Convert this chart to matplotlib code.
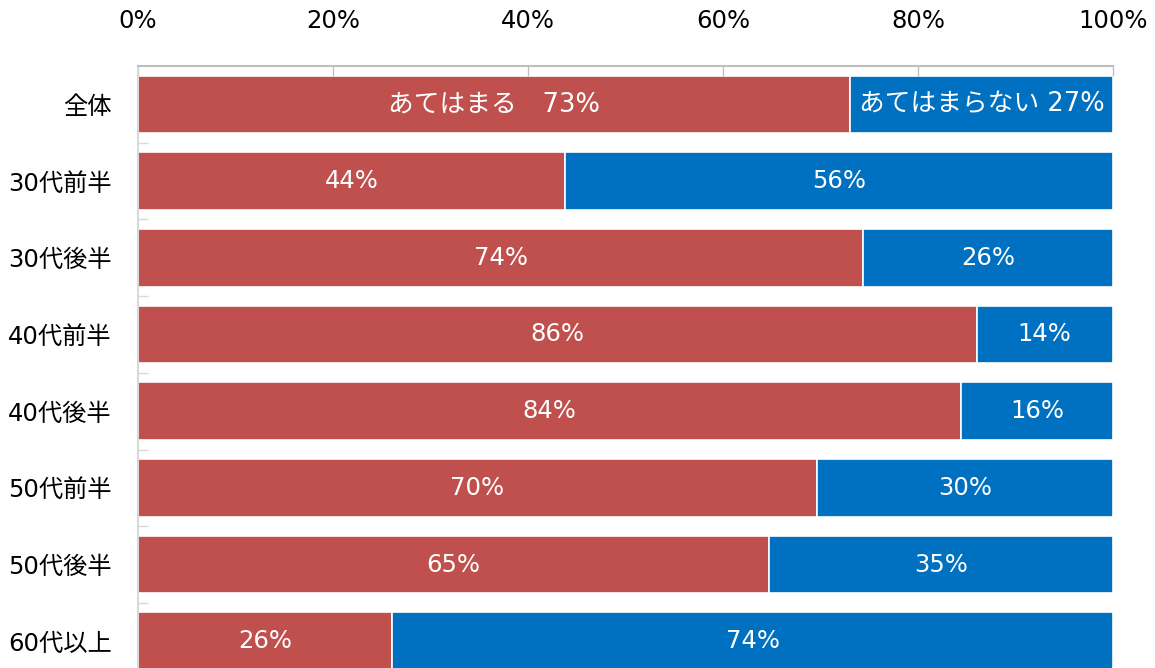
import matplotlib
matplotlib.use("Agg")
import matplotlib.pyplot as plt
import numpy as np

plt.rcParams['font.family'] = ['DejaVu Sans', 'Noto Sans CJK JP']

categories = ["全体", "30代前半", "30代後半", "40代前半", "40代後半", "50代前半", "50代後半", "60代以上"]
applies = [73.0, 43.8, 74.4, 86.0, 84.4, 69.6, 64.7, 26.1]
not_applies = [100 - v for v in applies]
series_names = ["あてはまる", "あてはまらない"]
xticks = [0, 20, 40, 60, 80, 100]
xtick_labels = ["0%", "20%", "40%", "60%", "80%", "100%"]

red = "#C0504D"
blue = "#0070C0"

fig = plt.figure(figsize=(11.55, 6.68), dpi=100)
ax = fig.add_axes([138/1155, -11.6/668, 975/1155, 613.6/668])

y = np.arange(len(categories))
ax.barh(y, applies, height=0.75, color=red, edgecolor="white", linewidth=1.2)
ax.barh(y, not_applies, left=applies, height=0.75, color=blue, edgecolor="white", linewidth=1.2)

for i, (a, b) in enumerate(zip(applies, not_applies)):
    if i == 0:
        la = f"{series_names[0]}\u3000{round(a)}%"
        lb = f"{series_names[1]} {round(b)}%"
        fs = 18.5
    else:
        la = f"{round(a)}%"
        lb = f"{round(b)}%"
        fs = 17.5
    ax.text(a / 2, i, la, ha="center", va="center", color="white", fontsize=fs)
    ax.text(a + b / 2, i, lb, ha="center", va="center", color="white", fontsize=fs)

ax.set_xlim(0, 100)
ax.set_ylim(len(categories) - 0.5, -0.5)

ax.xaxis.tick_top()
ax.set_xticks(xticks)
ax.set_xticklabels(xtick_labels, fontsize=17.5)
ax.tick_params(axis="x", direction="in", length=7, width=1, color="#BFBFBF", pad=24, top=True, bottom=False)

ax.set_yticks(y)
ax.set_yticklabels(categories, fontsize=17.5)
ax.set_yticks(np.arange(len(categories)) + 0.5, minor=True)
ax.tick_params(axis="y", which="major", length=0, pad=19)
ax.tick_params(axis="y", which="minor", direction="in", length=7, width=1, color="#D9D9D9")

for s in ["right", "bottom"]:
    ax.spines[s].set_visible(False)
ax.spines["top"].set_color("#BFBFBF")
ax.spines["top"].set_linewidth(1.5)
ax.spines["left"].set_color("#D9D9D9")
ax.spines["left"].set_linewidth(1.5)

fig.savefig("out.png", dpi=100)
